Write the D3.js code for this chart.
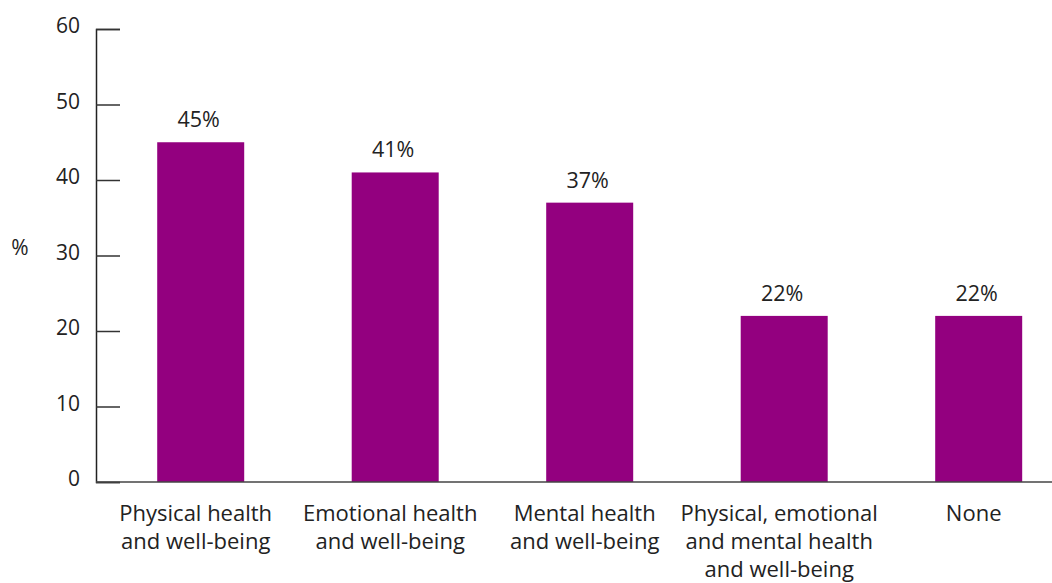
<!DOCTYPE html>
<html>
<head>
<meta charset="utf-8">
<script src="https://cdn.jsdelivr.net/npm/d3@7"></script>
<style>
  body { margin: 0; background: #fff; }
  svg text { font-family: "Open Sans", "Noto Sans", sans-serif; font-weight: 400; fill: #222; }
</style>
</head>
<body>
<div id="chart"></div>
<script>
var categories = [
  ["Physical health", "and well-being"],
  ["Emotional health", "and well-being"],
  ["Mental health", "and well-being"],
  ["Physical, emotional", "and mental health", "and well-being"],
  ["None"]
];
var values = [45, 41, 37, 22, 22];
var yTicks = [0, 10, 20, 30, 40, 50, 60];

var width = 1052, height = 583;
var axisX = 96, baseY = 482, topY = 29;

var svg = d3.select("#chart").append("svg")
    .attr("width", width)
    .attr("height", height);

var keys = categories.map(function(d) { return d.join(" "); });

var xScale = d3.scaleBand()
    .domain(keys)
    .range([axisX, 1083.4])
    .paddingInner(0.5527)
    .paddingOuter(0.3147);

var yScale = d3.scaleLinear()
    .domain([0, 60])
    .range([baseY, topY]);

// axis-y, ticks point inward
var yAxis = svg.append("g")
    .attr("transform", "translate(" + axisX + ",0)")
    .call(d3.axisRight(yScale).tickValues(yTicks).tickSize(24).tickFormat(""));
yAxis.select(".domain").attr("stroke", "#222").attr("stroke-width", 1.5);
yAxis.selectAll(".tick line").attr("stroke", "#333").attr("stroke-width", 1.5);

svg.append("g").selectAll("text")
    .data(yTicks)
    .enter().append("text")
    .attr("x", 80)
    .attr("y", function(d) { return yScale(d); })
    .attr("dy", "0.2em")
    .attr("text-anchor", "end")
    .style("font-size", "21px")
    .text(function(d) { return d; });

svg.append("text")
    .attr("x", 20)
    .attr("y", 255)
    .attr("text-anchor", "middle")
    .style("font-size", "21px")
    .text("%");

// bars
svg.append("g").selectAll("rect")
    .data(values)
    .enter().append("rect")
    .attr("x", function(d, i) { return xScale(keys[i]); })
    .attr("y", function(d) { return yScale(d); })
    .attr("width", xScale.bandwidth())
    .attr("height", function(d) { return baseY - yScale(d); })
    .attr("fill", "#93007f");

// axis-x baseline
svg.append("line")
    .attr("x1", axisX).attr("x2", width)
    .attr("y1", baseY).attr("y2", baseY)
    .attr("stroke", "#444")
    .attr("stroke-width", 1.5);

// value labels
svg.append("g").selectAll("text")
    .data(values)
    .enter().append("text")
    .attr("x", function(d, i) { return xScale(keys[i]) + xScale.bandwidth() / 2 - 2; })
    .attr("y", function(d) { return yScale(d) - 15; })
    .attr("text-anchor", "middle")
    .style("font-size", "21.5px")
    .text(function(d) { return d + "%"; });

// category labels
var lab = svg.append("g").selectAll("text")
    .data(categories)
    .enter().append("text")
    .attr("x", function(d, i) { return xScale(keys[i]) + xScale.bandwidth() / 2 - 5; })
    .attr("y", 521)
    .attr("text-anchor", "middle")
    .style("font-size", "22px");

lab.selectAll("tspan")
    .data(function(d) { return d; })
    .enter().append("tspan")
    .attr("x", function() { return d3.select(this.parentNode).attr("x"); })
    .attr("dy", function(d, i) { return i === 0 ? 0 : 28; })
    .text(function(d) { return d; });
</script>
</body>
</html>
